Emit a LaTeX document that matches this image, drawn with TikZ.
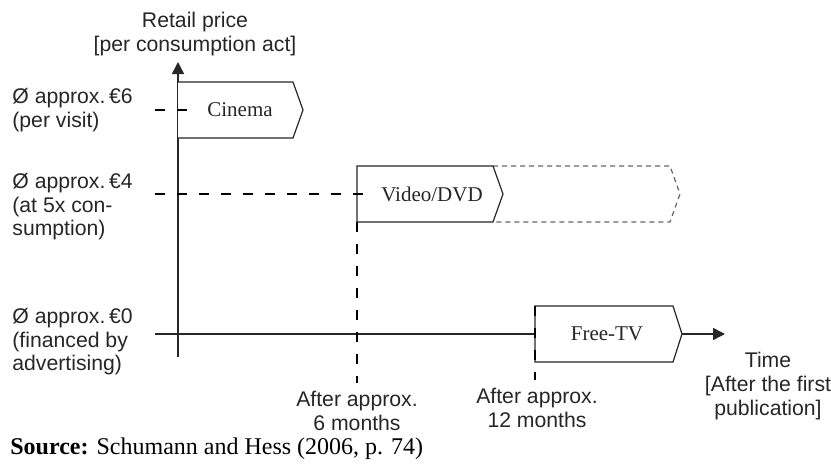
\documentclass[tikz,border=0pt]{standalone}
\usepackage{fontspec}
\setmainfont{Liberation Serif}
\setsansfont{Liberation Sans}
\usetikzlibrary{arrows.meta}
\definecolor{inkGrey}{gray}{0.15}

\begin{document}
\begin{tikzpicture}[x=0.5pt, y=-0.5pt,
  axis/.style={draw=inkGrey, line width=0.75pt},
  stage/.style={draw=inkGrey, line width=0.6pt, fill=white},
  later/.style={draw=black!60, line width=0.6pt, dash pattern=on 2.5pt off 2pt},
  guide/.style={draw=black, line width=1.4pt, dash pattern=on 5pt off 6pt},
  lbl/.style={font=\sffamily\fontsize{10.6}{11.8}\selectfont, text=inkGrey, inner sep=0pt},
  stagetext/.style={font=\fontsize{10.5}{12}\selectfont, text=inkGrey, inner sep=0pt}]
  \useasboundingbox (0,0) rectangle (831,466);
  % axes
  \coordinate (yfoot) at (178,357);
  \coordinate (ytip) at (178,62);
  \coordinate (xfoot) at (155,334);
  \coordinate (xtip) at (725,334);
  \draw[axis, -{Triangle[length=6pt, width=6pt]}] (yfoot) -- (ytip);
  \draw[axis, -{Triangle[length=6pt, width=6pt]}] (xfoot) -- (xtip);
  % stages
  \draw[later] (493,166) -- (670,166) -- (680,194) -- (670,222) -- (493,222);
  \draw[stage] (178,82) -- (293,82) -- (303,110) -- (293,138) -- (178,138);
  \draw[stage] (357,166) -- (493,166) -- (503,194) -- (493,222) -- (357,222) -- cycle;
  \draw[stage] (535,306) -- (673,306) -- (682,334) -- (673,362) -- (535,362) -- cycle;
  \node[stagetext] (cinema) at (240,110) {Cinema};
  \node[stagetext] (video) at (432,194) {Video/DVD};
  \node[stagetext] (freetv) at (607,334) {Free-TV};
  % price levels
  \node[lbl, anchor=west, align=left] (p6) at (12,110) {Ø approx.\,€6\\(per visit)};
  \node[lbl, anchor=west, align=left] (p4) at (12,207) {Ø approx.\,€4\\(at 5x con-\\sumption)};
  \node[lbl, anchor=west, align=left] (p0) at (12,342) {Ø approx.\,€0\\(financed by\\advertising)};
  \coordinate (g6a) at (155,110);
  \coordinate (g6b) at (190,110);
  \coordinate (g4a) at (155,194);
  \coordinate (g4b) at (372,194);
  \draw[guide] (g6a) -- (g6b);
  \draw[guide] (g4a) -- (g4b);
  % time marks
  \node[lbl, align=center] (t6) at (357,411) {After approx.\\6 months};
  \node[lbl, align=center] (t12) at (537,408) {After approx.\\12 months};
  \coordinate (m6) at (357,222);
  \coordinate (m12) at (535,306);
  \draw[guide] (m6) -- ([yshift=4pt]t6.north -| m6);
  \draw[guide] (m12) -- ([yshift=4pt]t12.north -| m12);
  % axis labels
  \node[lbl, align=center] (ylab) at (195,34) {Retail price\\{}[per consumption act]};
  \node[lbl, align=center] (tlab) at (768,386) {Time\\{}[After the first\\publication]};
  \node[font=\fontsize{12}{14}\selectfont, anchor=west, inner sep=0pt] (src) at (10,449)
    {\textbf{Source:} Schumann and Hess (2006, p. 74)};
\end{tikzpicture}
\end{document}
